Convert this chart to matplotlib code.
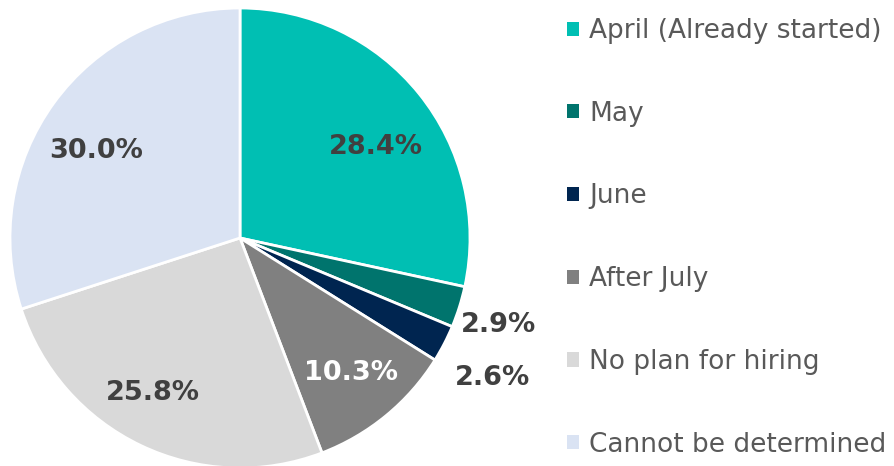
import numpy as np
import matplotlib.pyplot as plt
from matplotlib.patches import Patch

labels = ["April (Already started)", "May", "June", "After July",
          "No plan for hiring", "Cannot be determined"]
values = [28.4, 2.9, 2.6, 10.3, 25.8, 30.0]
colors = ["#00BFB3", "#00746D", "#002550", "#808080", "#D9D9D9", "#DAE3F3"]
# label placement: radius as fraction of pie radius, angle shift from wedge middle (deg)
label_dist = [0.72, 1.18, 1.25, 0.75, 0.76, 0.74]
label_shift = [-4.3, -0.5, -1.0, 0.6, -4.2, 4.0]
label_color = ["#404040", "#404040", "#404040", "white", "#404040", "#404040"]

W, H = 894, 466
fig = plt.figure(figsize=(W / 100, H / 100), dpi=100)
ax = fig.add_axes([0, 0, 1, 1])

cx, cy, R = 240, H - 238, 230
wedges, _ = ax.pie(values, colors=colors, startangle=90, counterclock=False,
                   center=(cx, cy), radius=R, frame=True,
                   wedgeprops=dict(edgecolor="white", linewidth=2))
ax.set_xlim(0, W)
ax.set_ylim(0, H)
ax.set_aspect("equal")
ax.axis("off")

for w, v, d, s, c in zip(wedges, values, label_dist, label_shift, label_color):
    ang = np.deg2rad((w.theta1 + w.theta2) / 2 + s)
    ax.text(cx + d * R * np.cos(ang), cy + d * R * np.sin(ang), f"{v:.1f}%",
            ha="center", va="center_baseline", fontsize=19.5, fontweight="bold", color=c)

handles = [Patch(facecolor=c, edgecolor="none") for c in colors]
fig.legend(handles, labels, loc="upper left", bbox_to_anchor=(567 / W, 1 - 18 / H),
           frameon=False, fontsize=19, labelcolor="#595959",
           handlelength=0.45, handleheight=0.45, handletextpad=0.4,
           labelspacing=2.15, borderaxespad=0, borderpad=0)

fig.savefig("out.png", dpi=100)
